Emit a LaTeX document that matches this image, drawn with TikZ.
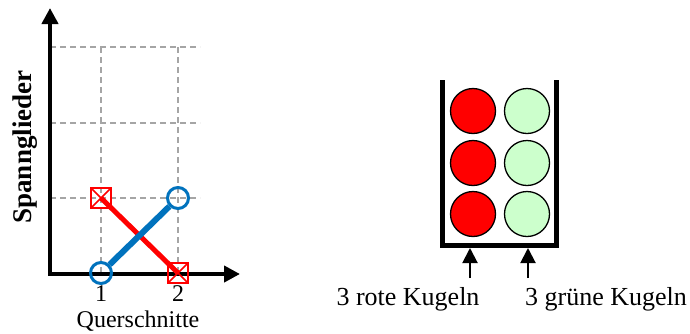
\documentclass[tikz,border=0pt]{standalone}
\usepackage{fontspec}
\setmainfont{Liberation Serif}
\usetikzlibrary{arrows.meta}
\definecolor{mblue}{RGB}{0,114,189}
\definecolor{mgreen}{RGB}{204,255,204}
\definecolor{gridgray}{RGB}{165,165,165}
\tikzset{
  axis/.style={line width=4pt,-{Triangle[length=16pt,width=16pt]}},
  gridline/.style={gridgray,line width=1.3pt,dash pattern=on 6pt off 4pt},
  bluemark/.style={circle,draw=mblue,line width=3pt,minimum size=21pt,inner sep=0pt},
  redmark/.style={rectangle,draw=red,line width=2pt,minimum size=20pt,inner sep=0pt,
    path picture={\draw[red,line width=1.5pt] (path picture bounding box.north west) -- (path picture bounding box.south east)
      (path picture bounding box.north east) -- (path picture bounding box.south west);}},
  ball/.style={circle,draw=black,line width=1.3pt,minimum size=45pt,inner sep=0pt},
  wall/.style={line width=5pt},
  lab/.style={font=\fontsize{26}{30}\selectfont,inner sep=0pt,anchor=base},
  uparrow/.style={line width=2pt,-{Triangle[length=15pt,width=15pt]}}
}
\begin{document}
\begin{tikzpicture}[x=1pt,y=-1pt]
\useasboundingbox (0,0) rectangle (690,333);
% grid
\draw[gridline] (50,47) -- (200,47);
\draw[gridline] (50,123) -- (200,123);
\draw[gridline] (50,198) -- (200,198);
\draw[gridline] (101,47) -- (101,274);
\draw[gridline] (178,47) -- (178,274);
% axes
\coordinate (o) at (50,274);
\coordinate (ytip) at (50,8);
\coordinate (xtip) at (240,274);
\draw[axis] ([yshift=2pt]o) -- (ytip);
\draw[axis] ([xshift=-2pt]o) -- (xtip);
% markers
\node[redmark] (r1) at (101,198) {};
\node[redmark] (r2) at (178,273) {};
\draw[red,line width=5pt] (r1.center) -- (r2.center);
\node[bluemark] (b1) at (101,273) {};
\node[bluemark] (b2) at (178,198) {};
\draw[mblue,line width=6pt] (b1) -- (b2);
% labels
\node[lab,font=\fontsize{24}{28}\selectfont,text depth=0pt] (l1) at (101,301) {1};
\node[lab,font=\fontsize{24}{28}\selectfont,text depth=0pt] (l2) at (178,301) {2};
\node[lab,font=\fontsize{24}{28}\selectfont] (xl) at (138,327) {Querschnitte};
\node[font=\fontsize{27}{30}\selectfont\bfseries,inner sep=0pt,rotate=90] (yl) at (25,147) {Spannglieder};
% container
\coordinate (wl) at (442,80);
\coordinate (bl) at (442,245);
\coordinate (br) at (556,245);
\coordinate (wr) at (556,80);
\draw[wall] (wl) -- (bl) -- (br) -- (wr);
% balls
\node[ball,fill=red] (k1) at (473,111) {};
\node[ball,fill=red] (k2) at (473,163) {};
\node[ball,fill=red] (k3) at (473,214) {};
\node[ball,fill=mgreen] (k4) at (527,111) {};
\node[ball,fill=mgreen] (k5) at (527,163) {};
\node[ball,fill=mgreen] (k6) at (527,214) {};
% arrows and texts
\coordinate (a1) at (470,278);
\coordinate (t1) at (470,248);
\coordinate (a2) at (528,278);
\coordinate (t2) at (528,248);
\draw[uparrow] (a1) -- (t1);
\draw[uparrow] (a2) -- (t2);
\node[lab] (rot) at (408,305) {3 rote Kugeln};
\node[lab] (gruen) at (606,305) {3 grüne Kugeln};
\end{tikzpicture}
\end{document}
